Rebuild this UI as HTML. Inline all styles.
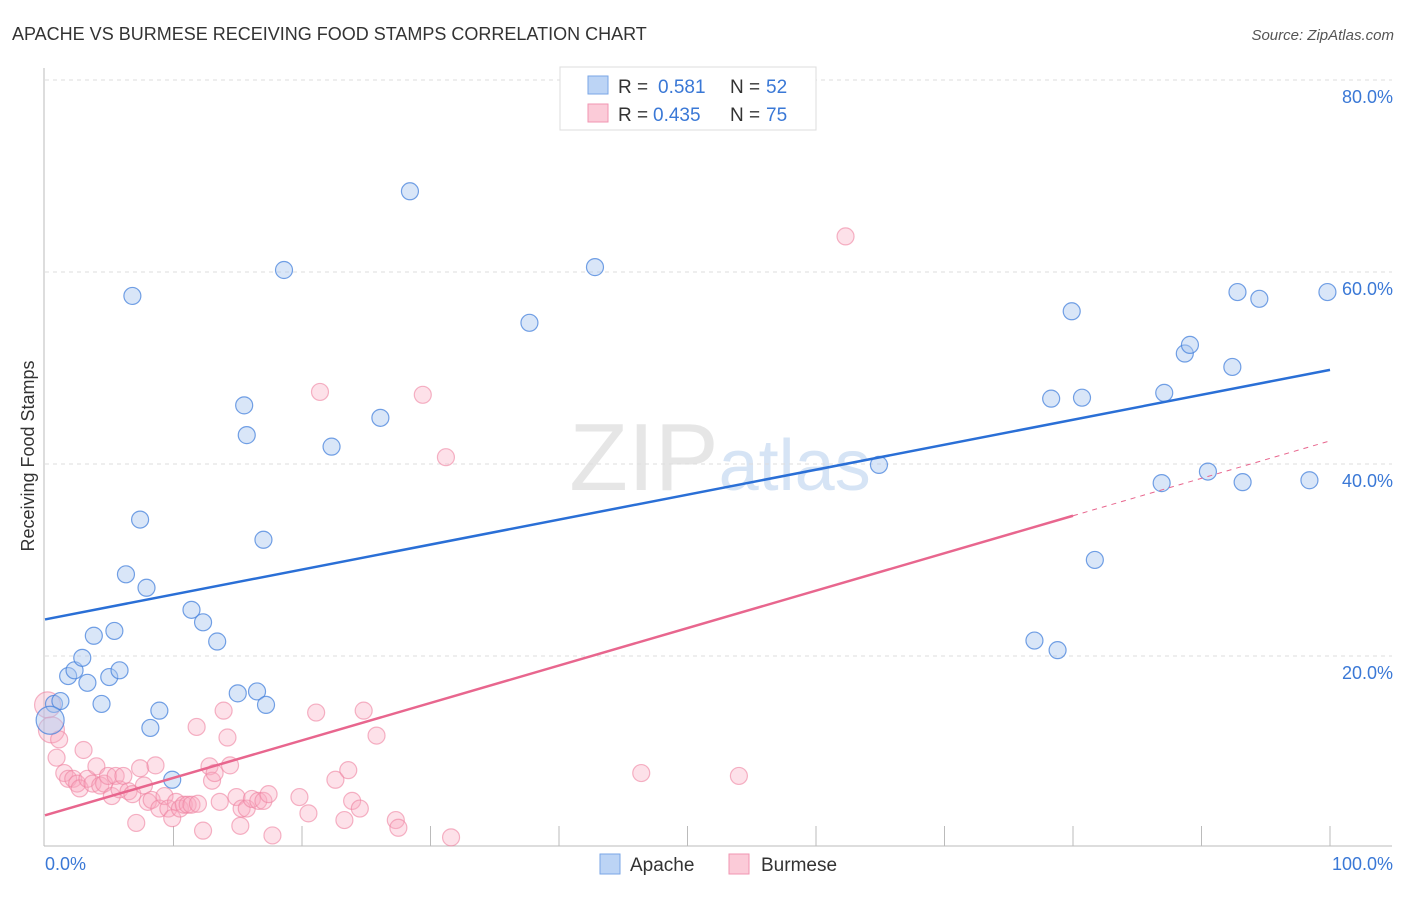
<!DOCTYPE html>
<html><head><meta charset="utf-8"><style>
body{margin:0;background:#fff;font-family:"Liberation Sans",sans-serif}
svg text{font-family:"Liberation Sans",sans-serif}
</style></head><body>
<svg id="chart" width="1406" height="892">
<text x="12" y="40" font-size="18" fill="#333">APACHE VS BURMESE RECEIVING FOOD STAMPS CORRELATION CHART</text>
<text x="1394" y="40" font-size="15" fill="#555" font-style="italic" text-anchor="end">Source: ZipAtlas.com</text>
<text x="720" y="490" font-size="96" fill="#e6e6e6" text-anchor="middle" font-family="Liberation Serif">ZIP<tspan fill="#d6e4f5" font-family="Liberation Sans" font-size="72">atlas</tspan></text>
<g id="grid"></g>
<g id="marks"></g>
<text transform="translate(34,456) rotate(-90)" font-size="18" fill="#333" text-anchor="middle">Receiving Food Stamps</text>
<text x="45" y="870" font-size="18" fill="#3a78d6">0.0%</text>
<text x="1393" y="870" font-size="18" fill="#3a78d6" text-anchor="end">100.0%</text>
<g>
<rect x="560" y="67" width="256" height="63" fill="#fff" stroke="#ddd"/>
<rect x="588" y="76" width="20" height="18" fill="#bcd4f5" stroke="#7aa6e6"/>
<rect x="588" y="104" width="20" height="18" fill="#fbcbd8" stroke="#f096b2"/>
<text x="618" y="93" font-size="19" fill="#333">R =</text>
<text x="658" y="93" font-size="19" fill="#3a78d6">0.581</text>
<text x="730" y="93" font-size="19" fill="#333">N =</text>
<text x="766" y="93" font-size="19" fill="#3a78d6">52</text>
<text x="618" y="121" font-size="19" fill="#333">R =</text>
<text x="653" y="121" font-size="19" fill="#3a78d6">0.435</text>
<text x="730" y="121" font-size="19" fill="#333">N =</text>
<text x="766" y="121" font-size="19" fill="#3a78d6">75</text>
</g>
<g><rect x="600" y="854" width="20" height="20" fill="#bcd4f5" stroke="#7aa6e6"/><text x="630" y="871" font-size="19" fill="#333">Apache</text></g>
<g><rect x="729" y="854" width="20" height="20" fill="#fbcbd8" stroke="#f096b2"/><text x="761" y="871" font-size="19" fill="#333">Burmese</text></g>
</svg>
<script>
const yTicks=[20,40,60,80];
const yTickLabels=["20.0%","40.0%","60.0%","80.0%"];
const xTicks=[10,20,30,40,50,60,70,80,90,100];
const apacheX=[0.7,1.2,1.8,2.3,2.9,3.3,3.8,4.4,5.0,5.4,5.8,6.3,6.8,7.4,7.9,8.2,8.9,9.9,11.4,12.3,13.4,15.0,15.5,15.7,16.5,17.0,17.2,18.6,22.3,26.1,28.4,37.7,42.8,64.9,77.0,78.3,78.8,79.9,80.7,81.7,86.9,87.1,88.7,89.1,90.5,92.4,92.8,93.2,94.5,98.4,99.8,0.4];
const apacheY=[14.8,15.1,17.7,18.3,19.6,17.0,21.9,14.8,17.6,22.4,18.3,28.3,57.3,34.0,26.9,12.3,14.1,6.9,24.6,23.3,21.3,15.9,45.9,42.8,16.1,31.9,14.7,60.0,41.6,44.6,68.2,54.5,60.3,39.7,21.4,46.6,20.4,55.7,46.7,29.8,37.8,47.2,51.3,52.2,39.0,49.9,57.7,37.9,57.0,38.1,57.7,13.1];
const burmeseX=[0.2,0.5,0.9,1.1,1.5,1.8,2.2,2.5,2.7,3.0,3.3,3.7,4.0,4.3,4.6,4.9,5.2,5.5,5.8,6.1,6.5,6.8,7.1,7.4,7.7,8.0,8.3,8.6,8.9,9.3,9.6,9.9,10.2,10.5,10.8,11.1,11.4,11.8,11.9,12.3,12.8,13.0,13.2,13.6,13.9,14.2,14.4,14.9,15.2,15.3,15.7,16.1,16.6,17.0,17.4,17.7,19.8,20.5,21.1,21.4,22.6,23.3,23.6,23.9,24.5,24.8,25.8,27.3,27.5,29.4,31.2,31.6,46.4,54.0,62.3];
const burmeseY=[14.7,12.1,9.2,11.1,7.6,7.0,7.0,6.5,6.0,10.0,7.0,6.5,8.3,6.3,6.5,7.3,5.2,7.3,5.9,7.3,5.7,5.4,2.4,8.1,6.3,4.6,4.8,8.4,3.9,5.2,3.9,2.9,4.6,3.9,4.3,4.3,4.3,12.4,4.4,1.6,8.3,6.8,7.6,4.6,14.1,11.3,8.4,5.1,2.1,3.9,3.9,4.9,4.7,4.7,5.4,1.1,5.1,3.4,13.9,47.3,6.9,2.7,7.9,4.7,3.9,14.1,11.5,2.7,1.9,47.0,40.5,0.9,7.6,7.3,63.5];
const apacheBig=[0,0,0,0,0,0,0,0,0,0,0,0,0,0,0,0,0,0,0,0,0,0,0,0,0,0,0,0,0,0,0,0,0,0,0,0,0,0,0,0,0,0,0,0,0,0,0,0,0,0,0,1];
const NS="http://www.w3.org/2000/svg";
const X0=45,X1=1330,Y0=846,YS=9.6;
const xs=v=>X0+(X1-X0)*v/100;
const ys=v=>Y0-v*YS;
const grid=document.getElementById('grid'),marks=document.getElementById('marks'),svg=document.getElementById('chart');
function mk(t,a,p){const e=document.createElementNS(NS,t);for(const k in a)e.setAttribute(k,a[k]);(p||marks).appendChild(e);return e;}
yTicks.forEach((v,i)=>{
const l=mk('line',{x1:X0,x2:1392,y1:ys(v)+2,y2:ys(v)+2,stroke:'#ddd','stroke-dasharray':'4,4'},grid);


const t=mk('text',{x:1393,y:ys(v)+25,'font-size':18,fill:'#3a78d6','text-anchor':'end'},svg);
t.textContent=yTickLabels[i];


});
mk('line',{x1:44,x2:44,y1:68,y2:Y0,stroke:'#bbb'},grid);
mk('line',{x1:44,x2:1392,y1:Y0,y2:Y0,stroke:'#bbb'},grid);
xTicks.forEach(v=>{const l=mk('line',{x1:xs(v),x2:xs(v),y1:826,y2:Y0,stroke:'#bbb'},grid);

});
burmeseX.forEach((x,i)=>{const c=mk('circle',{cx:xs(x),cy:ys(burmeseY[i]),r:i<2?13:8.5,fill:'rgba(248,170,192,0.35)',stroke:'rgba(238,130,160,0.6)','stroke-width':1.2});

});
apacheX.forEach((x,i)=>{const c=mk('circle',{cx:xs(x),cy:ys(apacheY[i]),r:apacheBig[i]?14:8.5,fill:'rgba(170,200,240,0.45)',stroke:'rgba(70,130,220,0.75)','stroke-width':1.2});

});
const bl=mk('line',{x1:xs(0),y1:ys(23.6),x2:xs(100),y2:ys(49.6),stroke:'#2a6fd6','stroke-width':2.5});


const pl=mk('line',{x1:xs(0),y1:ys(3.2),x2:xs(80),y2:ys(34.4),stroke:'#e8668e','stroke-width':2.5});


const pd=mk('line',{x1:xs(80),y1:ys(34.4),x2:xs(100),y2:ys(42.2),stroke:'#e8668e','stroke-width':1,'stroke-dasharray':'5,5'});


</script>
</body></html>
